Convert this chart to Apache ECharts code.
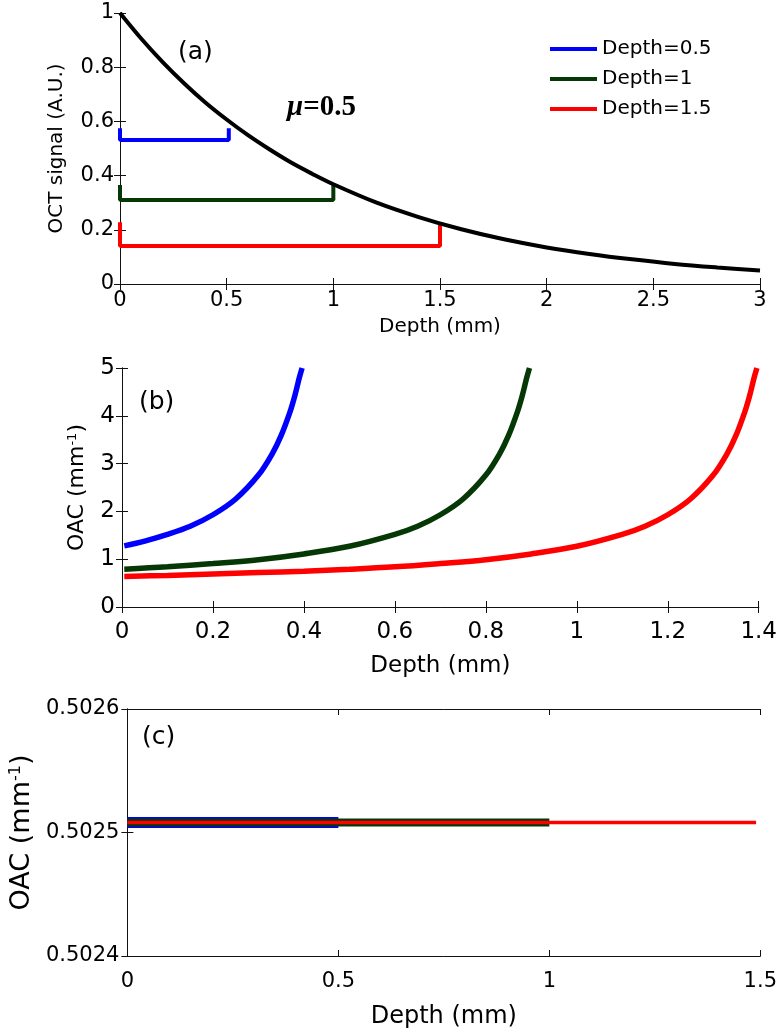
<!DOCTYPE html>
<html><head><meta charset="utf-8">
<script src="https://cdn.jsdelivr.net/npm/echarts@6/dist/echarts.min.js"></script>
<style>html,body{margin:0;padding:0;background:#fff}#c{width:780px;height:1034px}</style>
</head><body><div id="c"></div><script>
// ---------- Panel (a) ----------
const aDepth  = [0,0.1,0.2,0.3,0.4,0.5,0.6,0.7,0.8,0.9,1.0,1.2,1.4,1.6,1.8,2.0,2.2,2.4,2.6,2.8,3.0];
const aSignal = [1,0.905,0.819,0.741,0.670,0.607,0.549,0.497,0.449,0.407,0.368,0.301,0.247,0.202,0.165,0.135,0.111,0.091,0.074,0.061,0.050];
const aXTicks = [0,0.5,1,1.5,2,2.5,3];
const aYTicks = [0,0.2,0.4,0.6,0.8,1];
const legendNames = ['Depth=0.5','Depth=1','Depth=1.5'];
const bracketBlueX  = [0,0,0.51,0.51];
const bracketBlueY  = [0.575,0.531,0.531,0.575];
const bracketGreenX = [0,0,1,1];
const bracketGreenY = [0.365,0.31,0.31,0.368];
const bracketRedX   = [0,0,1.5,1.5];
const bracketRedY   = [0.228,0.14,0.14,0.228];
// ---------- Panel (b) ----------
const bBlueDepth  = [0.005,0.05,0.1,0.15,0.2,0.25,0.3,0.33,0.35,0.37,0.38,0.39,0.396];
const bBlueOAC    = [1.28,1.38,1.52,1.69,1.93,2.26,2.76,3.2,3.59,4.10,4.42,4.80,5.0];
const bGreenDepth = [0.005,0.1,0.2,0.3,0.4,0.5,0.6,0.65,0.7,0.75,0.8,0.83,0.85,0.87,0.88,0.89,0.896];
const bGreenOAC   = [0.79,0.84,0.91,0.99,1.11,1.27,1.52,1.69,1.93,2.26,2.76,3.2,3.59,4.10,4.42,4.80,5.0];
const bRedDepth   = [0.005,0.1,0.2,0.3,0.4,0.5,0.6,0.7,0.8,0.9,1.0,1.1,1.15,1.2,1.25,1.3,1.33,1.35,1.37,1.38,1.39,1.396];
const bRedOAC     = [0.64,0.66,0.69,0.72,0.75,0.79,0.84,0.91,0.99,1.11,1.27,1.52,1.69,1.93,2.26,2.76,3.2,3.59,4.10,4.42,4.80,5.0];
const bXTicks = [0,0.2,0.4,0.6,0.8,1,1.2,1.4];
const bYTicks = [0,1,2,3,4,5];
// ---------- Panel (c) ----------
const cBlueDepth  = [0,0.5];
const cGreenDepth = [0,1];
const cRedDepth   = [0,1.49];
const cOAC = 0.502508;
const cXTicks = [0,0.5,1,1.5];
const cYTicks = [0.5024,0.5025,0.5026];

const BLUE='#0000ff', GREEN='#063806', RED='#ff0000';
const SANS='DejaVu Sans';
const zip=(xs,ys)=>xs.map((x,i)=>[x,ys[i]]);
const fmt=d=>v=>String(+v.toFixed(d));

function axesFor(g, xt, yt, o){
  const axLine={show:true,lineStyle:{color:'#111',width:1}};
  const tick={show:true,inside:true,length:6,lineStyle:{color:'#111',width:1}};
  const xs=[{type:'value',gridIndex:g,position:'bottom',min:xt[0],max:xt[xt.length-1],interval:xt[1]-xt[0],
      axisLine:axLine,axisTick:tick,splitLine:{show:false},
      axisLabel:{color:'#000',fontFamily:SANS,fontSize:o.tickFs,margin:o.xMargin,formatter:fmt(o.xd)},
      name:'Depth (mm)',nameLocation:'middle',nameGap:o.xNameGap,
      nameTextStyle:{color:'#000',fontFamily:SANS,fontSize:o.xNameFs}},
    {type:'value',gridIndex:g,position:'top',min:xt[0],max:xt[xt.length-1],interval:xt[1]-xt[0],
      axisLine:axLine,axisTick:tick,splitLine:{show:false},axisLabel:{show:false}}];
  const ys=[{type:'value',gridIndex:g,position:'left',min:yt[0],max:yt[yt.length-1],interval:+(yt[1]-yt[0]).toFixed(6),
      axisLine:axLine,axisTick:tick,splitLine:{show:false},
      axisLabel:{color:'#000',fontFamily:SANS,fontSize:o.tickFs,margin:o.yMargin,formatter:fmt(o.yd)},
      name:o.yName,nameLocation:'middle',nameGap:o.yNameGap,
      nameTextStyle:{color:'#000',fontFamily:SANS,fontSize:o.yNameFs,
        rich:{sup:{fontFamily:SANS,fontSize:Math.round(o.yNameFs*0.6),verticalAlign:'top',color:'#000'}}}},
    {type:'value',gridIndex:g,position:'right',min:yt[0],max:yt[yt.length-1],interval:+(yt[1]-yt[0]).toFixed(6),
      axisLine:axLine,axisTick:tick,splitLine:{show:false},axisLabel:{show:false}}];
  return {xs,ys};
}
const A=axesFor(0,aXTicks,aYTicks,{tickFs:21,xMargin:6,yMargin:6,xd:2,yd:2,xNameGap:33,xNameFs:20,
  yName:'OCT signal (A.U.)',yNameGap:53,yNameFs:20});
const B=axesFor(1,bXTicks,bYTicks,{tickFs:23,xMargin:14,yMargin:7,xd:2,yd:2,xNameGap:48,xNameFs:23,
  yName:'OAC (mm{sup|-1})',yNameGap:34,yNameFs:22});
const C=axesFor(2,cXTicks,cYTicks,{tickFs:21,xMargin:15,yMargin:8,xd:2,yd:4,xNameGap:49,xNameFs:24,
  yName:'OAC (mm{sup|-1})',yNameGap:90,yNameFs:27});

const line=(name,data,color,w,xi,yi,smooth,z)=>({name,type:'line',data,xAxisIndex:xi,yAxisIndex:yi,
  showSymbol:false,symbol:'none',smooth:smooth?0.35:false,
  lineStyle:{color,width:w,cap:'butt'},itemStyle:{color},z:z||2,animation:false});

const option={
  animation:false,backgroundColor:'#fff',
  grid:[{left:120,top:13,width:640,height:271},
        {left:122,top:368,width:640,height:239},
        {left:125,top:709,width:636,height:247}],
  xAxis:[...A.xs,...B.xs,...C.xs],
  yAxis:[...A.ys,...B.ys,...C.ys],
  legend:{data:legendNames,orient:'vertical',left:550,top:39,padding:0,itemWidth:47,itemHeight:4,itemGap:10,icon:'rect',
    textStyle:{color:'#000',fontFamily:SANS,fontSize:20},selectedMode:false},
  series:[
    line('signal',zip(aDepth,aSignal),'#000',4,0,0,true,3),
    line(legendNames[0],zip(bracketBlueX,bracketBlueY),BLUE,4,0,0,false),
    line(legendNames[1],zip(bracketGreenX,bracketGreenY),GREEN,4,0,0,false),
    line(legendNames[2],zip(bracketRedX,bracketRedY),RED,4,0,0,false),
    line('b1',zip(bBlueDepth,bBlueOAC),BLUE,5.5,2,2,true),
    line('b2',zip(bGreenDepth,bGreenOAC),GREEN,5.5,2,2,true),
    line('b3',zip(bRedDepth,bRedOAC),RED,5.5,2,2,true),
    line('c1',cBlueDepth.map(x=>[x,cOAC]),BLUE,11,4,4,false,2),
    line('c2',cGreenDepth.map(x=>[x,cOAC]),GREEN,8,4,4,false,3),
    line('c3',cRedDepth.map(x=>[x,cOAC]),RED,3.5,4,4,false,4)
  ],
  graphic:[
    {type:'text',left:178,top:40,style:{text:'(a)',fontFamily:SANS,fontSize:25,fill:'#000'}},
    {type:'text',left:139,top:390,style:{text:'(b)',fontFamily:SANS,fontSize:25,fill:'#000'}},
    {type:'text',left:142,top:725,style:{text:'(c)',fontFamily:SANS,fontSize:25,fill:'#000'}},
    {type:'text',left:287,top:93,style:{text:'{i|μ}{b|=0.5}',
      rich:{i:{fontFamily:'Liberation Serif',fontStyle:'italic',fontWeight:'bold',fontSize:29,fill:'#000'},
            b:{fontFamily:'Liberation Serif',fontWeight:'bold',fontSize:29,fill:'#000'}}}}
  ]
};
const chart=echarts.init(document.getElementById('c'),null,{renderer:'canvas'});
chart.setOption(option);
</script></body></html>
